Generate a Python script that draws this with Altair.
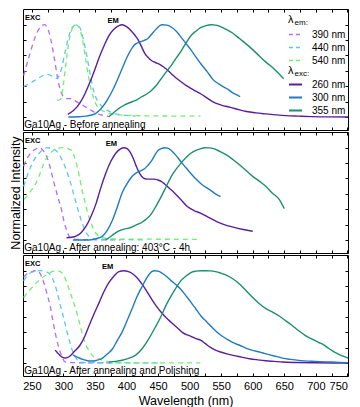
import altair as alt
import pandas as pd

FONT = "Liberation Sans"
W, H = 325, 121
X_DOMAIN = [236, 751]
Y_DOMAIN = [-0.14, 1.17]
X_TICKS = list(range(250, 751, 25))
X_LABEL_TICKS = list(range(250, 751, 50))
Y_TICKS = [0, 1 / 6, 2 / 6, 3 / 6, 4 / 6, 5 / 6, 1]

EXC_LABELS = ["390 nm", "440 nm", "540 nm"]
EM_LABELS = ["260 nm", "300 nm", "355 nm"]
EXC_COLORS = ["#b36bff", "#5cc6f0", "#6ff06f"]
EM_COLORS = ["#5a1e9c", "#1f7bc2", "#1b8f6e"]

PANELS = ["before", "anneal", "polish"]
CAPTIONS = [
    "Ga10Ag - Before annealing",
    "Ga10Ag - After annealing: 403°C - 4h",
    "Ga10Ag - After annealing and Polishing",
]
EM_LABEL_X = [379, 376, 370]
LEGEND_HEADS = ["em:", "exc:"]
LEGEND_HEAD_X = [656, 656]
LEGEND_HEAD_Y = [1.05, 0.5]

BEFORE_EXC_390 = [(237, .45), (245, .64), (255, .86), (262, .96), (270, 1.0), (278, .9), (286, .62), (292, .38),
                  (299, .23), (305, .2), (310, .2), (316, .19), (320, .17), (328, .14), (335, .11), (345, .07),
                  (354, .036), (362, .02), (373, .005)]
BEFORE_EXC_440 = [(237, .33), (248, .37), (258, .41), (268, .45), (277, .46), (284, .43), (290, .42), (296, .5),
                  (302, .68), (308, .86), (314, .97), (321, 1.0), (326, .97), (331, .86), (336, .7), (341, .52),
                  (346, .34), (351, .22), (358, .14), (366, .09), (376, .05), (392, .025), (414, .01)]
BEFORE_EXC_540 = [(290, .18), (295, .19), (299, .3), (303, .52), (308, .78), (313, .94), (319, 1.0), (325, .97),
                  (330, .85), (335, .64), (340, .43), (345, .27), (351, .15), (360, .08), (372, .04), (395, .02),
                  (450, .012), (517, .01)]
BEFORE_EM_260 = [(307, .03), (316, .07), (326, .15), (334, .25), (341, .36), (349, .5), (357, .65), (365, .78),
                 (372, .88), (380, .95), (388, .99), (393, 1.0), (400, .98), (408, .93), (414, .88), (419, .83),
                 (424, .76), (429, .69), (435, .64), (440, .61), (448, .585), (455, .56), (463, .52), (471, .47),
                 (479, .42), (487, .38), (495, .34), (502, .31), (510, .28), (518, .25), (528, .205), (537, .165),
                 (550, .13), (565, .105), (578, .08), (590, .06), (605, .045), (621, .034), (637, .024),
                 (652, .016), (672, .01), (693, .005), (720, .002), (751, 0.0)]
BEFORE_EM_300 = [(308, 0.0), (322, .003), (336, .01), (343, .02), (350, .035), (356, .065), (362, .11), (370, .19),
                 (378, .29), (386, .41), (394, .54), (401, .65), (409, .75), (414, .79), (420, .81), (428, .83),
                 (434, .85), (440, .9), (448, .96), (456, 1.0), (464, .995), (472, .97), (480, .92), (487, .86),
                 (495, .79), (503, .72), (511, .64), (518, .575), (528, .49), (538, .4), (546, .36), (553, .33),
                 (561, .3), (569, .26), (575, .24), (580, .22)]
BEFORE_EM_355 = [(372, .005), (380, .05), (388, .094), (398, .135), (409, .166), (417, .19), (424, .22), (432, .25),
                 (440, .29), (448, .35), (455, .415), (463, .49), (471, .56), (479, .64), (487, .72), (495, .81),
                 (502, .88), (510, .93), (518, .97), (526, .99), (534, 1.0), (541, .995), (549, .98), (558, .95),
                 (568, .91), (579, .85), (590, .79), (600, .73), (610, .665), (620, .6), (631, .54), (640, .48),
                 (649, .415)]

ANNEAL_EXC_390 = [(237, .8), (243, .89), (249, .95), (255, .98), (261, 1.0), (268, .97), (276, .86), (284, .65),
                  (291, .47), (297, .33), (301, .2), (305, .11), (310, .03), (316, .01), (326, .006), (345, .004),
                  (390, .002)]
ANNEAL_EXC_440 = [(237, .58), (244, .72), (253, .86), (263, .95), (274, 1.0), (283, .99), (292, .94), (301, .82),
                  (310, .65), (317, .48), (323, .33), (329, .2), (334, .11), (339, .05), (344, .025), (355, .01),
                  (380, .006), (430, .003)]
ANNEAL_EXC_540 = [(238, .44), (247, .52), (256, .61), (263, .72), (269, .83), (277, .92), (284, .97), (292, .995),
                  (300, 1.0), (307, .99), (313, .97), (317, .91), (321, .82), (325, .7), (329, .56), (334, .42),
                  (339, .28), (344, .18), (349, .1), (355, .05), (362, .025), (380, .012), (420, .01), (517, .008)]
ANNEAL_EM_260 = [(305, .025), (313, .03), (320, .043), (328, .08), (336, .15), (344, .26), (352, .4), (359, .56),
                 (367, .72), (375, .85), (383, .94), (390, .985), (396, 1.0), (401, .99), (406, .95), (411, .88),
                 (416, .79), (421, .72), (427, .67), (432, .66), (437, .66), (444, .66), (450, .65), (455, .635),
                 (460, .61), (468, .56), (476, .51), (486, .44), (497, .36), (507, .32), (518, .29), (530, .245),
                 (543, .2), (556, .165), (569, .14), (585, .115), (600, .096)]
ANNEAL_EM_300 = [(315, 0.0), (330, 0.0), (341, 0.0), (352, .015), (362, .043), (370, .11), (378, .22), (386, .37),
                 (393, .51), (401, .61), (409, .69), (414, .72), (419, .74), (424, .755), (429, .775), (434, .81),
                 (440, .86), (445, .92), (450, .97), (455, .99), (460, 1.0), (465, .995), (471, .97), (478, .92),
                 (486, .85), (494, .785), (502, .72), (510, .66), (518, .61), (526, .57), (533, .54), (541, .5),
                 (549, .47)]
ANNEAL_EM_355 = [(367, 0.0), (377, .05), (388, .1), (396, .118), (404, .13), (414, .16), (424, .19), (432, .23),
                 (440, .29), (447, .37), (455, .47), (463, .58), (471, .69), (479, .77), (486, .83), (494, .89),
                 (502, .94), (510, .97), (518, .99), (523, 1.0), (530, .998), (538, .99), (548, .96), (559, .92),
                 (569, .87), (580, .81), (590, .75), (600, .69), (611, .635), (621, .58), (631, .51), (642, .44),
                 (650, .34)]

POLISH_EXC_390 = [(237, .93), (243, .97), (250, .99), (258, 1.0), (264, .96), (269, .87), (274, .75), (279, .62),
                  (283, .47), (287, .33), (291, .21), (295, .12), (299, .05), (302, .015), (310, .005), (330, .003),
                  (378, .002)]
POLISH_EXC_440 = [(237, .89), (243, .95), (249, .98), (256, .995), (264, 1.0), (272, .99), (279, .96), (285, .88),
                  (290, .77), (295, .63), (300, .5), (305, .36), (310, .23), (314, .14), (318, .08), (322, .035),
                  (326, .01), (340, .005), (380, .003), (450, .002)]
POLISH_EXC_540 = [(237, .71), (243, .76), (248, .8), (256, .86), (264, .91), (272, .95), (279, .98), (285, .995),
                  (290, 1.0), (297, .98), (302, .93), (307, .84), (312, .74), (318, .62), (323, .5), (328, .37),
                  (332, .27), (336, .19), (341, .13), (346, .08), (354, .05), (362, .03), (372, .015), (383, .005),
                  (420, .003), (517, .002)]
POLISH_EM_260 = [(287, .14), (291, .11), (295, .08), (299, .062), (303, .055), (307, .062), (311, .08), (318, .13),
                 (326, .19), (334, .29), (341, .41), (349, .54), (357, .66), (364, .77), (372, .87), (380, .94),
                 (388, .99), (396, 1.0), (403, .99), (409, .97), (416, .93), (424, .86), (432, .78), (440, .69),
                 (447, .62), (455, .55), (463, .49), (471, .44), (480, .385), (489, .33), (496, .305), (502, .29),
                 (510, .265), (518, .245), (525, .21), (533, .17), (541, .14), (549, .12), (559, .1), (569, .083),
                 (582, .065), (595, .047), (608, .035), (621, .025), (634, .018), (647, .011), (670, .006),
                 (699, .003), (751, 0.0)]
POLISH_EM_300 = [(315, .09), (320, .07), (325, .055), (331, .04), (337, .028), (343, .022), (348, .022), (355, .035),
                 (362, .054), (370, .1), (378, .155), (385, .24), (393, .335), (401, .46), (409, .59), (416, .71),
                 (424, .82), (432, .92), (440, .99), (445, 1.0), (450, .995), (455, .98), (463, .94), (471, .89),
                 (479, .845), (486, .8), (494, .73), (502, .66), (510, .585), (518, .51), (528, .44), (538, .37),
                 (548, .31), (559, .26), (569, .22), (580, .19), (590, .16), (600, .137), (611, .118), (621, .1),
                 (634, .077), (647, .054), (660, .04), (673, .029), (699, .018), (725, .011), (751, .004)]
POLISH_EM_355 = [(372, .01), (383, .018), (393, .03), (403, .05), (414, .083), (424, .15), (435, .26), (445, .38),
                 (455, .51), (463, .63), (471, .73), (479, .82), (486, .89), (494, .94), (502, .98), (510, .995),
                 (518, 1.0), (526, 1.0), (533, .998), (541, .99), (549, .975), (559, .95), (569, .91), (580, .85),
                 (590, .78), (600, .71), (611, .64), (621, .59), (632, .55), (642, .51), (652, .46), (662, .41),
                 (673, .35), (683, .3), (694, .26), (704, .225), (712, .2), (720, .16), (727, .13), (735, .1),
                 (743, .075), (751, .054)]

SERIES = {
    ("before", "exc", "390 nm"): BEFORE_EXC_390,
    ("before", "exc", "440 nm"): BEFORE_EXC_440,
    ("before", "exc", "540 nm"): BEFORE_EXC_540,
    ("before", "em", "260 nm"): BEFORE_EM_260,
    ("before", "em", "300 nm"): BEFORE_EM_300,
    ("before", "em", "355 nm"): BEFORE_EM_355,
    ("anneal", "exc", "390 nm"): ANNEAL_EXC_390,
    ("anneal", "exc", "440 nm"): ANNEAL_EXC_440,
    ("anneal", "exc", "540 nm"): ANNEAL_EXC_540,
    ("anneal", "em", "260 nm"): ANNEAL_EM_260,
    ("anneal", "em", "300 nm"): ANNEAL_EM_300,
    ("anneal", "em", "355 nm"): ANNEAL_EM_355,
    ("polish", "exc", "390 nm"): POLISH_EXC_390,
    ("polish", "exc", "440 nm"): POLISH_EXC_440,
    ("polish", "exc", "540 nm"): POLISH_EXC_540,
    ("polish", "em", "260 nm"): POLISH_EM_260,
    ("polish", "em", "300 nm"): POLISH_EM_300,
    ("polish", "em", "355 nm"): POLISH_EM_355,
}

rows = []
for (panel_key, kind, label), pts in SERIES.items():
    for i, (x, y) in enumerate(pts):
        rows.append({"panel": panel_key, "kind": kind, "series": label, "nm": x, "v": y, "i": i})
df = pd.DataFrame(rows)


def tick_axis(orient, offset, values):
    return alt.Axis(orient=orient, offset=offset, values=values, labels=False, title=None,
                    domain=False, ticks=True, tickSize=3, tickWidth=1, tickColor="black", grid=False)


def make_legend(y, dash):
    kw = dict(title=None, orient="none", legendX=W - 60, legendY=y, symbolType="stroke",
              symbolSize=169, symbolStrokeWidth=1.6 if dash else 2, labelFontSize=10,
              labelOffset=9, rowPadding=0, padding=0, labelColor="black", labelFont=FONT,
              direction="vertical")
    if dash:
        kw["symbolDash"] = [4, 3]
    return alt.Legend(**kw)


def panel(idx):
    key = PANELS[idx]
    first, middle, last = idx == 0, idx == 1, idx == 2
    xs = alt.Scale(domain=X_DOMAIN, nice=False, zero=False)
    ys = alt.Scale(domain=Y_DOMAIN, nice=False, zero=False)
    d = df[df.panel == key]

    exc_legend = make_legend(18, True) if first else None
    em_legend = make_legend(68, False) if first else None

    exc = alt.Chart(d[d.kind == "exc"]).mark_line(
        strokeWidth=1.3, strokeDash=[5, 4], interpolate="monotone", clip=True
    ).encode(
        x=alt.X("nm:Q", scale=xs, axis=tick_axis("top", -H, X_TICKS)),
        y=alt.Y("v:Q", scale=ys, axis=tick_axis("right", -W, Y_TICKS)),
        stroke=alt.Stroke("series:N", scale=alt.Scale(domain=EXC_LABELS, range=EXC_COLORS), legend=exc_legend),
        order="i:Q",
    )
    em = alt.Chart(d[d.kind == "em"]).mark_line(
        strokeWidth=1.4, interpolate="monotone", clip=True
    ).encode(
        x=alt.X("nm:Q", scale=xs, axis=tick_axis("bottom", -H, X_TICKS)),
        y=alt.Y("v:Q", scale=ys, axis=tick_axis("left", -W, Y_TICKS)),
        color=alt.Color("series:N", scale=alt.Scale(domain=EM_LABELS, range=EM_COLORS), legend=em_legend),
        order="i:Q",
    )

    def enc():
        return dict(x=alt.X("nm:Q", scale=xs, axis=None), y=alt.Y("v:Q", scale=ys, axis=None), text="t:N")

    exc_lbl = alt.Chart(pd.DataFrame({"nm": [239], "v": [1.07], "t": ["EXC"]})).mark_text(
        align="left", baseline="middle", font=FONT, fontSize=7.5, fontWeight="bold", color="black"
    ).encode(**enc())
    em_lbl = alt.Chart(pd.DataFrame({"nm": [EM_LABEL_X[idx]], "v": [1.04], "t": ["EM"]})).mark_text(
        align="center", baseline="middle", font=FONT, fontSize=7.5, fontWeight="bold", color="black"
    ).encode(**enc())

    layers = [exc, em, exc_lbl, em_lbl]
    if first:
        head_df = pd.DataFrame({"nm": LEGEND_HEAD_X, "v": LEGEND_HEAD_Y, "t": LEGEND_HEADS})
        lam_df = pd.DataFrame({"nm": LEGEND_HEAD_X, "v": LEGEND_HEAD_Y, "t": ["λ", "λ"]})
        lam = alt.Chart(lam_df).mark_text(
            align="left", baseline="middle", font=FONT, fontSize=11, color="black"
        ).encode(**enc())
        sub = alt.Chart(head_df).mark_text(
            align="left", baseline="middle", font=FONT, fontSize=8, color="black", dx=6.5, dy=3
        ).encode(**enc())
        layers += [lam, sub]

    x_axis = alt.Axis(orient="bottom", values=X_LABEL_TICKS, ticks=False, domain=False, grid=False,
                      labelFontSize=11, labelPadding=4, labelColor="black", labelFont=FONT,
                      title="Wavelength (nm)", titleFontSize=12.5, titleFontWeight="normal",
                      titlePadding=3, titleColor="black", titleFont=FONT) if last else None
    y_axis = alt.Axis(orient="left", labels=False, ticks=False, domain=False, grid=False,
                      title="Normalized Intensity", titleFontSize=12.5, titleFontWeight="normal",
                      titlePadding=1, titleColor="black", titleFont=FONT,
                      titleOpacity=1 if middle else 0, minExtent=0, maxExtent=0)
    cap = alt.Chart(pd.DataFrame({"nm": [238], "v": [-0.135], "t": [CAPTIONS[idx]]})).mark_text(
        align="left", baseline="bottom", font=FONT, fontSize=10, color="black"
    ).encode(x=alt.X("nm:Q", scale=xs, axis=x_axis), y=alt.Y("v:Q", scale=ys, axis=y_axis), text="t:N")
    layers.append(cap)

    return alt.layer(*layers).resolve_axis(
        x="independent", y="independent"
    ).properties(width=W, height=H)


chart = alt.vconcat(panel(0), panel(1), panel(2), spacing=0).resolve_scale(
    color="independent", stroke="independent"
).properties(padding=0).configure_view(stroke="black", strokeWidth=1).configure_axis(
    labelFont=FONT, titleFont=FONT
)

chart.save("out.html", embed_options={"renderer": "svg", "actions": False})
